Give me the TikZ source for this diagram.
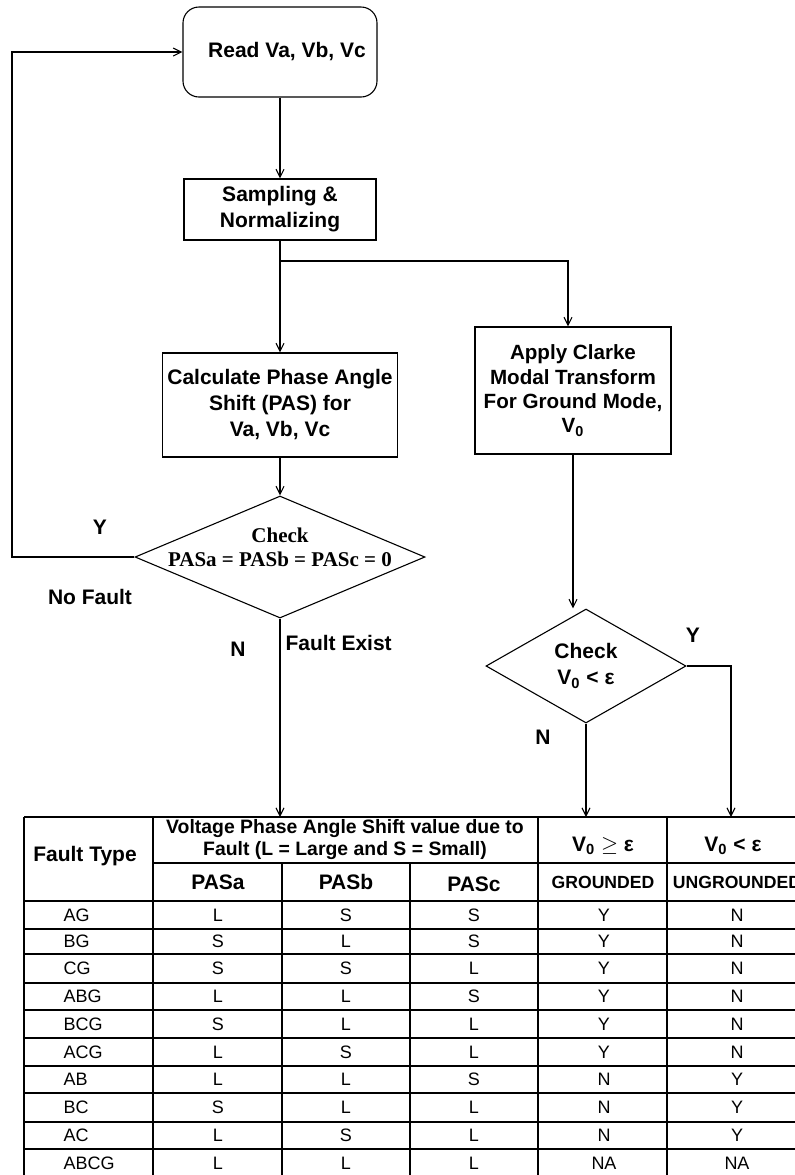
\documentclass[tikz,border=0pt]{standalone}
\usepackage{fontspec}
\setmainfont{Liberation Sans}
\newfontfamily\chkfont{Liberation Serif}
\usetikzlibrary{arrows.meta,shapes.geometric}
\newcommand{\frow}[8]{\node[cell,anchor=west] (ft#1) at (63,#2){#3};\node[cell] (pa#1) at (218,#2){#4};\node[cell] (pb#1) at (346,#2){#5};
\node[cell] (pc#1) at (474,#2){#6};\node[cell] (gr#1) at (604,#2){#7};\node[cell] (ug#1) at (737,#2){#8};}

\begin{document}
\begin{tikzpicture}[x=0.5pt,y=-0.5pt,line width=0.55pt,>={Straight Barb[length=4pt,width=4pt]},
  box/.style={draw,align=center,inner sep=2pt,font=\fontsize{10.5}{13}\selectfont\bfseries},
  dia/.style={draw,diamond,inner sep=0pt},
  lbl/.style={inner sep=0pt,font=\fontsize{10.5}{13}\selectfont\bfseries},
  hd/.style={inner sep=0pt,align=center,font=\fontsize{10.5}{11}\selectfont\bfseries},
  cell/.style={inner sep=0pt,font=\fontsize{9}{10}\selectfont}]
\clip (0,0) rectangle (795,1175);
% flow part
\node[box,rounded corners=8pt,minimum width=97pt,minimum height=45pt] (read) at (280,52) {\hspace{7pt}Read Va, Vb, Vc};
\node[box,minimum width=96pt,minimum height=30.5pt] (samp) at (280,209.5) {Sampling \&\\Normalizing};
\node[box,minimum width=117.5pt,minimum height=52pt] (calc) at (280,405) {Calculate Phase Angle\\Shift (PAS) for\\Va, Vb, Vc};
\node[box,font=\fontsize{10.3}{12.2}\selectfont\bfseries,minimum width=98pt,minimum height=63.5pt] (clarke) at (573,390.5) {Apply Clarke\\Modal Transform\\For Ground Mode,\\V\textsubscript{0}};
\node[dia,minimum width=145pt,minimum height=61pt] (chk1) at (280,557) {};
\node[align=center,inner sep=0pt,font=\fontsize{10.5}{12}\selectfont\chkfont\bfseries] (chk1t) at (280,547) {Check\\PASa = PASb = PASc = 0};
\node[dia,align=center,font=\fontsize{10.5}{13}\selectfont\bfseries,minimum width=100pt,minimum height=57pt] (chk2) at (586,666) {Check\\V\textsubscript{0} < ε};
\node[lbl] (y1) at (100,527) {Y};\node[lbl] (nofault) at (90,597) {No Fault};
\node[lbl] (n1) at (238,649) {N};\node[lbl,anchor=west] (fexist) at (285,643) {Fault Exist};
\node[lbl] (y2) at (693,635) {Y};\node[lbl] (n2) at (543,737) {N};
\coordinate (split) at (280,261);\coordinate (back) at (12,557);\coordinate (yturn) at (731,666);\coordinate (tabtop) at (0,817);
\draw[->] (read) -- (samp);\draw (samp) -- (split);
\draw[->] (split) -- (calc);\draw[->] (split) -| ([xshift=-2.5pt]clarke.north);
\draw[->] (calc) -- (chk1);\draw[->] (chk1.west) -- (back) |- (read.west);
\draw[->] (clarke.south) -- (clarke.south |- chk2.north);
\draw[->] (chk1.south) -- (chk1.south |- tabtop);\draw[->] (chk2.south) -- (chk2.south |- tabtop);
\draw[->] (chk2.east) -- (yturn) -- (yturn |- tabtop);
% table
\draw[line width=0.7pt] (24,817) -- (810,817) (153,863) -- (810,863) (24,901) -- (810,901) (24,929) -- (810,929) (24,954) -- (810,954)
  (24,983) -- (810,983) (24,1010) -- (810,1010) (24,1038) -- (810,1038) (24,1066) -- (810,1066) (24,1093) -- (810,1093)
  (24,1122) -- (810,1122) (24,1149) -- (810,1149)
  (24,817) -- (24,1180) (153,817) -- (153,1180) (282,863) -- (282,1180) (410,863) -- (410,1180) (538,817) -- (538,1180) (667,817) -- (667,1180);
\node[hd] (fty) at (85,856) {Fault Type};
\node[hd,font=\fontsize{9.7}{11}\selectfont\bfseries] (vpas) at (345,840) {Voltage Phase Angle Shift value due to\\Fault (L = Large and S = Small)};
\node[hd] (hpa) at (218,882) {PASa};\node[hd] (hpb) at (346,882) {PASb};\node[hd] (hpc) at (474,884) {PASc};
\node[hd] (hge) at (603,846) {V\textsubscript{0} $\geq$ ε};\node[hd] (hlt) at (733,846) {V\textsubscript{0} < ε};
\node[hd,font=\fontsize{8.8}{10}\selectfont\bfseries] (hgr) at (603,882) {GROUNDED};
\node[hd,font=\fontsize{8.8}{10}\selectfont\bfseries] (hug) at (737,882) {UNGROUNDED};
\frow{1}{915}{AG}{L}{S}{S}{Y}{N}
\frow{2}{941.5}{BG}{S}{L}{S}{Y}{N}
\frow{3}{968.5}{CG}{S}{S}{L}{Y}{N}
\frow{4}{996.5}{ABG}{L}{L}{S}{Y}{N}
\frow{5}{1024}{BCG}{S}{L}{L}{Y}{N}
\frow{6}{1052}{ACG}{L}{S}{L}{Y}{N}
\frow{7}{1079.5}{AB}{L}{L}{S}{N}{Y}
\frow{8}{1107.5}{BC}{S}{L}{L}{N}{Y}
\frow{9}{1135.5}{AC}{L}{S}{L}{N}{Y}
\frow{10}{1163}{ABCG}{L}{L}{L}{NA}{NA}
\end{tikzpicture}
\end{document}
